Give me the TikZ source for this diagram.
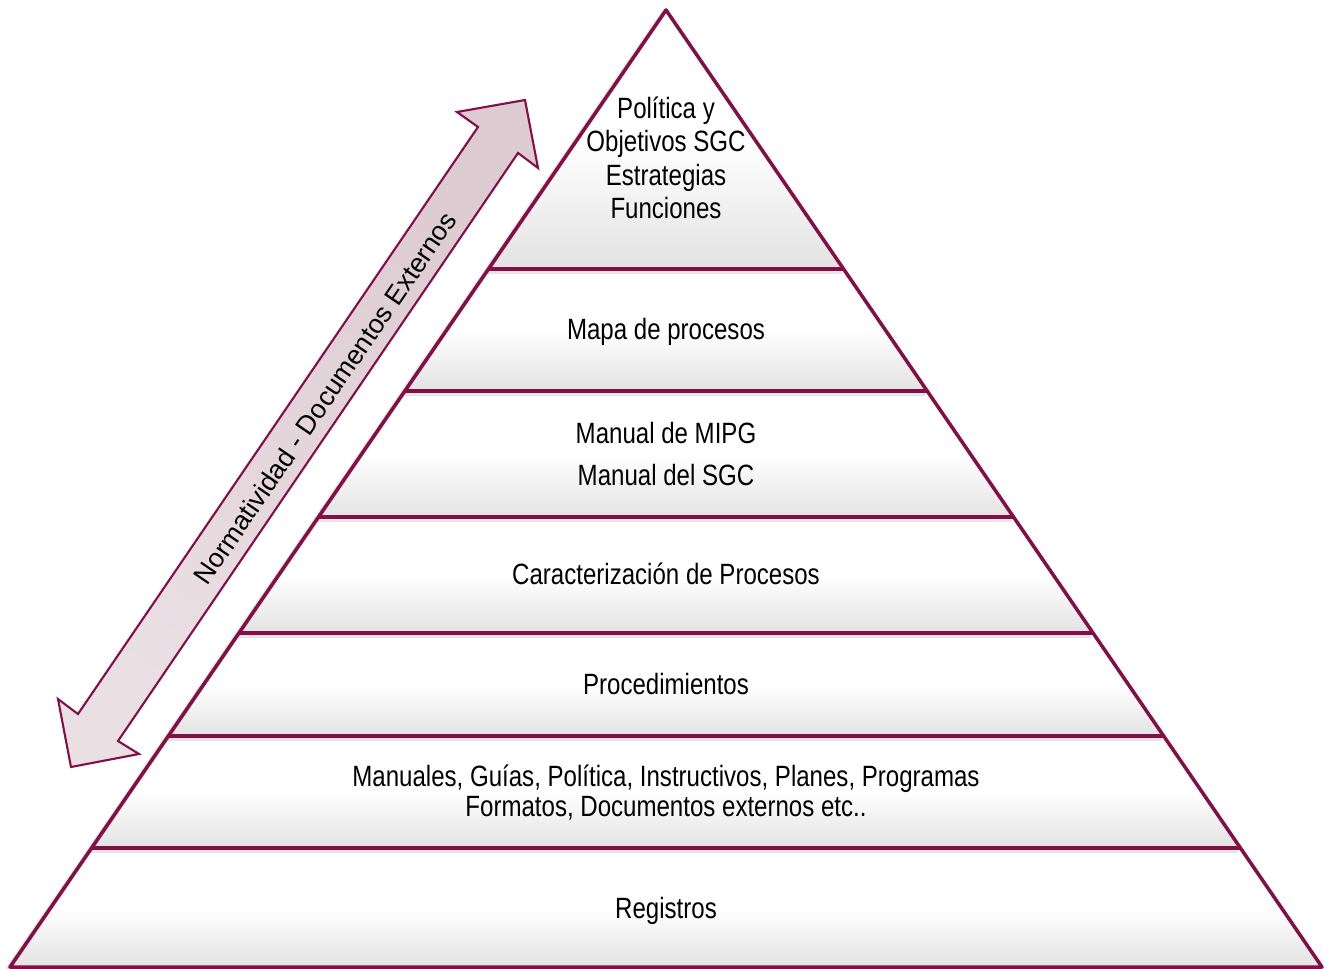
\documentclass[tikz,border=0pt]{standalone}
\usepackage{fontspec}
\setmainfont{Liberation Sans}
\newfontfamily\narrowfont{Liberation Sans}[FakeStretch=0.82]
\definecolor{pyrline}{RGB}{132,14,70}
\definecolor{arrowtop}{RGB}{220,203,209}
\definecolor{arrowmid}{RGB}{198,163,175}
\definecolor{arrowbot}{RGB}{234,224,228}
\begin{document}
\begin{tikzpicture}[x=0.02cm,y=-0.02cm,
  layeredge/.style={draw=pyrline, line width=2pt, line join=round},
  layershadow/.style={draw=black, opacity=0.10, line width=3pt, line join=round},
  layertext/.style={font=\narrowfont\fontsize{16.7}{19.1}\selectfont, align=center, inner sep=0pt, text=black},
  arrowbody/.style={draw=pyrline, line width=1.2pt, line join=miter,
    top color=arrowtop, middle color=arrowmid, bottom color=arrowbot, shading angle=-34.3},
  arrowtext/.style={font=\fontsize{15.2}{18}\selectfont, inner sep=0pt, text=black}
]
\useasboundingbox (0,0) rectangle (1331,969);
\fill[white] (0,0) rectangle (1331,969);

% pyramid layers: top y / bottom y in pixel units, sides of slope 0.6855
\foreach \ya/\yb in {10/269, 269/391, 391/517, 517/633, 633/736, 736/848, 848/967} {
  \pgfmathsetmacro\xa{0.6855*(\ya-10)}
  \pgfmathsetmacro\xb{0.6855*(\yb-10)}
  \pgfmathsetmacro\ym{\ya+0.5*(\yb-\ya)}
  \fill[white] (666-\xa,\ya) -- (666+\xa,\ya) -- (666+\xb,\yb) -- (666-\xb,\yb) -- cycle;
  \begin{scope}
    \clip (666-\xa,\ya) -- (666+\xa,\ya) -- (666+\xb,\yb) -- (666-\xb,\yb) -- cycle;
    \shade[top color=white, bottom color=black!11] (0,\ym) rectangle (1331,\yb);
  \end{scope}
}
% soft shadow under the outlines
\begin{scope}[shift={(-2,2.5)}]
  \draw[layershadow] (666,10) -- (10,967);
  \foreach \y in {269,391,517,633,736,848} {
    \pgfmathsetmacro\xx{0.6855*(\y-10)}
    \draw[layershadow] (666-\xx,\y) -- (666+\xx,\y);
  }
\end{scope}
% outlines
\draw[layeredge] (666,10) -- (1322,967) -- (10,967) -- cycle;
\foreach \y in {269,391,517,633,736,848} {
  \pgfmathsetmacro\xx{0.6855*(\y-10)}
  \draw[layeredge] (666-\xx,\y) -- (666+\xx,\y);
}

% layer labels
\node[layertext] (politica) at (666,158) {Política y\\Objetivos SGC\\Estrategias\\Funciones};
\node[layertext] (mapa) at (666,332) {Mapa de procesos};
\node[layertext, font=\narrowfont\fontsize{16.7}{24.4}\selectfont] (manual) at (666,454) {Manual de MIPG\\Manual del SGC};
\node[layertext] (caract) at (666,574) {Caracterización de Procesos};
\node[layertext] (proced) at (666,684) {Procedimientos};
\node[layertext, font=\narrowfont\fontsize{16.7}{17}\selectfont] (manuales) at (666,793) {Manuales, Guías, Política, Instructivos, Planes, Programas\\Formatos, Documentos externos etc..};
\node[layertext] (registros) at (666,911) {Registros};

% double block arrow along the left side
\path[arrowbody] (525,100) -- (457,112) -- (478,127) -- (78,714) -- (58,699) -- (71,767)
  -- (139,754) -- (118,741) -- (518,153) -- (538,168) -- cycle;
\node[arrowtext, rotate=55.7] (normas) at (325,398) {Normatividad - Documentos Externos};
\end{tikzpicture}
\end{document}
